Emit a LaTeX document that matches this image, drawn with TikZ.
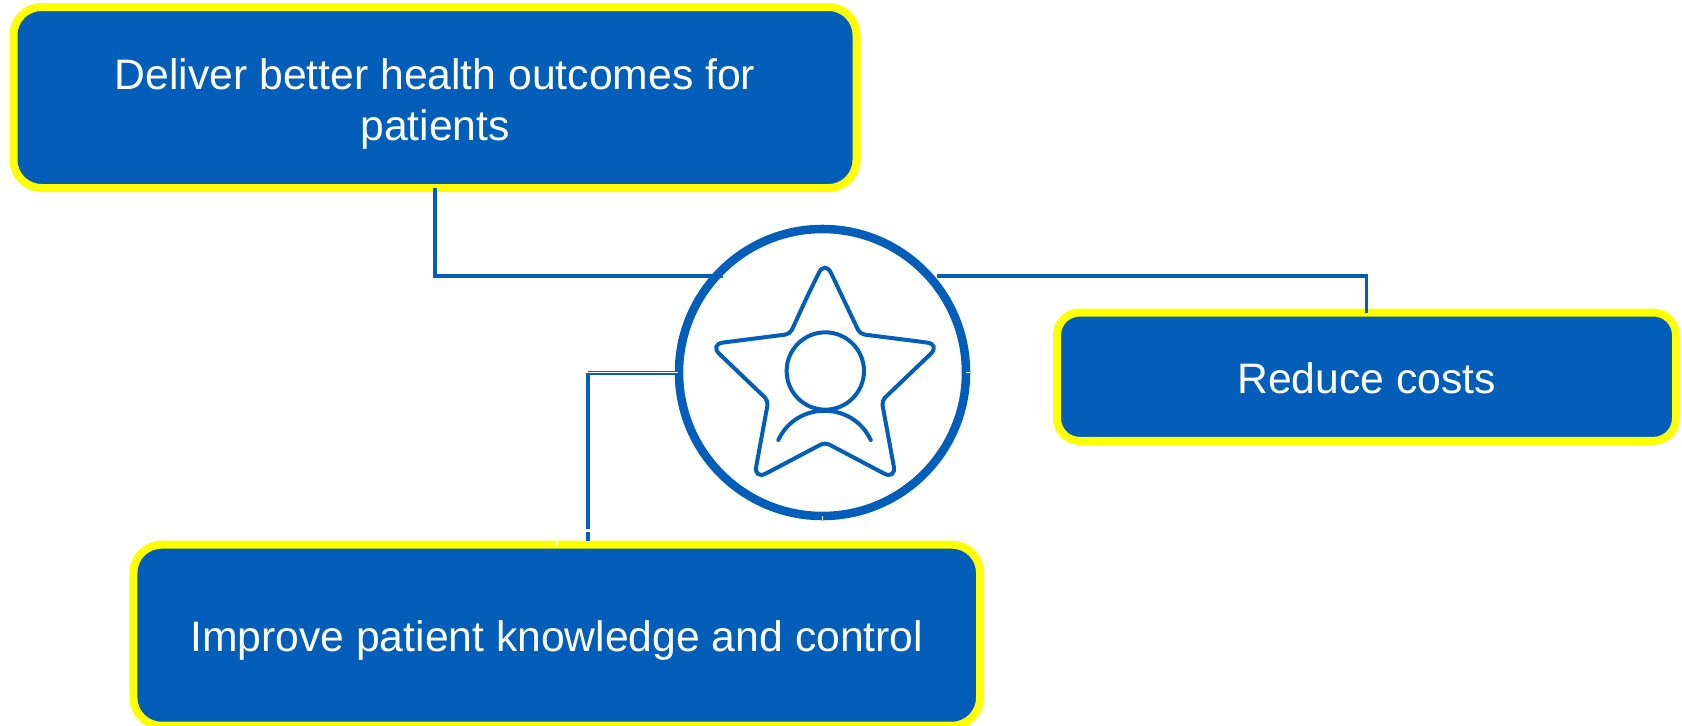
\documentclass[tikz,border=0pt]{standalone}
\usepackage{fontspec}
\setmainfont{Liberation Sans}
\definecolor{mainblue}{RGB}{2,94,184}
\definecolor{edgeyellow}{RGB}{255,255,0}
\tikzset{
  goalbox/.style={draw = edgeyellow, fill = mainblue, line width = 6pt, rounded corners = 21pt, inner sep = 0pt, outer sep = 0pt, text = white, align = center, font = \fontsize{32}{38.5}\selectfont},
  hubcircle/.style={circle, draw = mainblue, fill = white, line width = 6.4pt, inner sep = 0pt, outer sep = 0pt, minimum size = 215.25pt},
  headcircle/.style={circle, draw = mainblue, line width = 3pt, inner sep = 0pt, outer sep = 0pt, minimum size = 58pt},
  iconline/.style={draw = mainblue, line width = 3pt, line cap = round},
  linkline/.style={draw = mainblue, line width = 2.8pt},
  tickline/.style={draw = white, line width = 1.2pt}
}
\begin{document}
\begin{tikzpicture}[x = 0.75pt, y = -0.75pt]
\useasboundingbox (0,0) rectangle (1682,725);
\node[goalbox, minimum width = 632.25pt, minimum height = 135.75pt] (deliver) at (435,97.5){\rule{0pt}{33pt}Deliver better health outcomes for\\patients};
\node[goalbox, rounded corners = 17pt, minimum width = 464.25pt, minimum height = 96.3pt] (reduce) at (1366.5,376.7){\rule{0pt}{25pt}Reduce costs};
\node[goalbox, minimum width = 634.9pt, minimum height = 135.75pt] (improve) at (556.75,635.2){\rule{0pt}{30.5pt}Improve patient knowledge and control};
\node[hubcircle] (hub) at (822.5,372.5){};
\node[headcircle] (head) at (825.3,371){};
\coordinate (hubleft) at (723,276);
\coordinate (hubright) at (936.7,276);
\coordinate (hubmid) at (678,372.8);
\coordinate (elbow) at (588,372.8);
\coordinate (gaptop) at (588,529.3);
\coordinate (gapbottom) at (588,531.8);
\coordinate (improvein) at (588,541);
\draw[linkline] (deliver.south) |- (hubleft);
\draw[linkline] (hubright) -| (reduce.north);
\draw[draw = mainblue, line width = 1.1pt, double = white, double distance = 1pt] (hubmid) -- (elbow);
\draw[linkline, line width = 3pt] (elbow) -- (gaptop);
\draw[linkline, line width = 3pt] (gapbottom) -- (improvein);
\draw[tickline] (hub.east) -- ++(4,0);
\draw[tickline] (hub.south) -- ++(0,4);
\draw[tickline] (improve.north) -- ++(0,-4);
\draw[iconline, rounded corners = 3.5pt] (807,297) -- (790,334) [rounded corners = 10.5pt] -- (709.3,344.3) [rounded corners = 3.5pt] -- (768.3,400.7) [rounded corners = 10.5pt] -- (753.7,480) [rounded corners = 3.5pt] -- (825,442.3) [rounded corners = 10.5pt] -- (896.3,480) [rounded corners = 3.5pt] -- (881.7,400.7) [rounded corners = 10.5pt] -- (940.7,344.3) [rounded corners = 3.5pt] -- (860,334) [rounded corners = 10.5pt] -- (825,260.3) [rounded corners = 3.5pt] -- cycle;
\draw[iconline] (778.3,440) .. controls (796.3,401) and (852.7,401) .. (870.7,440);
\end{tikzpicture}
\end{document}
